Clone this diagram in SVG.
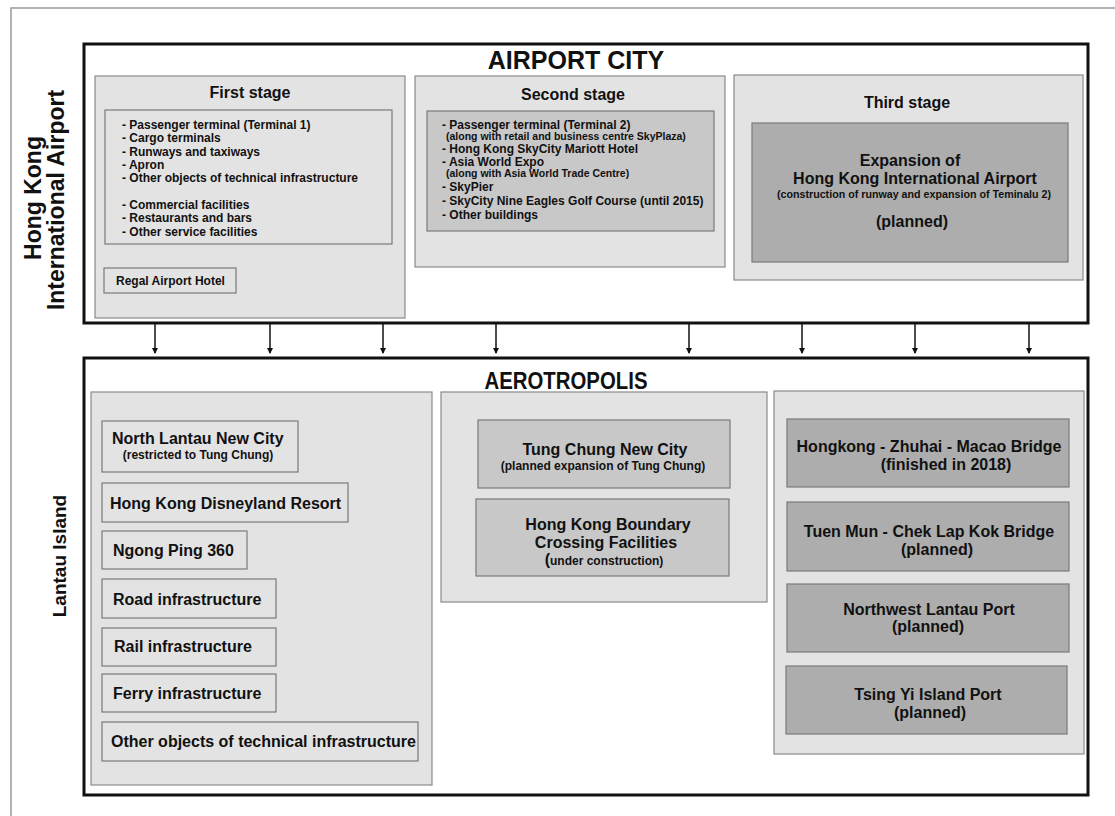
<svg xmlns="http://www.w3.org/2000/svg" width="1115" height="816" viewBox="0 0 1115 816">
<style>
text{font-family:"Liberation Sans",Arial,sans-serif;font-weight:bold;fill:#111}
.frame{fill:none;stroke:#999;stroke-width:1.5}
.big{fill:#fff;stroke:#111;stroke-width:3}
.panel{fill:#e3e3e3;stroke:#8a8a8a;stroke-width:1.2}
.light{fill:#e3e3e3;stroke:#7a7a7a;stroke-width:1.2}
.mid{fill:#c8c8c8;stroke:#7a7a7a;stroke-width:1.2}
.dark{fill:#adadad;stroke:#7a7a7a;stroke-width:1.2}
.c{text-anchor:middle}
.t25{font-size:25px}.t24{font-size:24px}.t23{font-size:23px}.t19{font-size:19px}.t16{font-size:16px}.t12{font-size:12px}.t105{font-size:10.5px}.t107{font-size:10.7px}
.conn line{stroke:#111;stroke-width:1.5}
</style>
<defs>
<marker id="ah" markerWidth="6" markerHeight="6" refX="5" refY="3" orient="auto" markerUnits="userSpaceOnUse">
<path d="M0,0 L6,3 L0,6 z" fill="#111"/>
</marker>
</defs>
<path class="frame" d="M11,816 L11,8 L1115,8"/>
<g id="label-hkia">
<text class="t23 c" transform="translate(41,198) rotate(-90)">Hong Kong</text>
<text class="t23 c" transform="translate(64,200) rotate(-90)">International Airport</text>
</g>
<g id="label-lantau">
<text class="t19 c" transform="translate(66,556) rotate(-90)">Lantau Island</text>
</g>
<g id="airport-city">
<rect class="big" x="84" y="44" width="1004" height="279"/>
<text class="t25 c" x="576" y="69">AIRPORT CITY</text>
</g>
<g id="first-stage">
<rect class="panel" x="95" y="76" width="310" height="242"/>
<text class="t16 c" x="250" y="98">First stage</text>
<rect class="light" x="105" y="110" width="287" height="134"/>
<text class="t12" x="122" y="129">- Passenger terminal (Terminal 1)</text>
<text class="t12" x="122" y="142">- Cargo terminals</text>
<text class="t12" x="122" y="156">- Runways and taxiways</text>
<text class="t12" x="122" y="169">- Apron</text>
<text class="t12" x="122" y="182">- Other objects of technical infrastructure</text>
<text class="t12" x="122" y="209">- Commercial facilities</text>
<text class="t12" x="122" y="222">- Restaurants and bars</text>
<text class="t12" x="122" y="236">- Other service facilities</text>
</g>
<g id="regal-hotel">
<rect class="light" x="104" y="268" width="132" height="25"/>
<text class="t12" x="116" y="285">Regal Airport Hotel</text>
</g>
<g id="second-stage">
<rect class="panel" x="415" y="76" width="310" height="191"/>
<text class="t16 c" x="573" y="100">Second stage</text>
<rect class="mid" x="427" y="111" width="287" height="120"/>
<text class="t12" x="442" y="129">- Passenger terminal (Terminal 2)</text>
<text class="t105" x="446" y="140">(along with retail and business centre SkyPlaza)</text>
<text class="t12" x="442" y="153">- Hong Kong SkyCity Mariott Hotel</text>
<text class="t12" x="442" y="166">- Asia World Expo</text>
<text class="t105" x="446" y="177">(along with Asia World Trade Centre)</text>
<text class="t12" x="442" y="191">- SkyPier</text>
<text class="t12" x="442" y="205">- SkyCity Nine Eagles Golf Course (until 2015)</text>
<text class="t12" x="442" y="219">- Other buildings</text>
</g>
<g id="third-stage">
<rect class="panel" x="734" y="75" width="349" height="205"/>
<text class="t16 c" x="907" y="108">Third stage</text>
<rect class="dark" x="752" y="123" width="316" height="139"/>
<text class="t16 c" x="910" y="166">Expansion of</text>
<text class="t16 c" x="915" y="184">Hong Kong International Airport</text>
<text class="t107 c" x="914" y="198">(construction of runway and expansion of Teminalu 2)</text>
<text class="t16 c" x="912" y="227">(planned)</text>
</g>
<g class="conn" id="connectors">
<line x1="155" y1="324" x2="155" y2="353" marker-end="url(#ah)"/>
<line x1="270" y1="324" x2="270" y2="353" marker-end="url(#ah)"/>
<line x1="383" y1="324" x2="383" y2="353" marker-end="url(#ah)"/>
<line x1="496" y1="324" x2="496" y2="353" marker-end="url(#ah)"/>
<line x1="689" y1="324" x2="689" y2="353" marker-end="url(#ah)"/>
<line x1="802" y1="324" x2="802" y2="353" marker-end="url(#ah)"/>
<line x1="915" y1="324" x2="915" y2="353" marker-end="url(#ah)"/>
<line x1="1029" y1="324" x2="1029" y2="353" marker-end="url(#ah)"/>
</g>
<g id="aerotropolis">
<rect class="big" x="84" y="358" width="1004" height="437"/>
<text class="t24 c" x="566" y="389" textLength="163" lengthAdjust="spacingAndGlyphs">AEROTROPOLIS</text>
</g>
<g id="panel-left">
<rect class="panel" x="91" y="392" width="341" height="393"/>
</g>
<g id="north-lantau">
<rect class="light" x="102" y="421" width="196" height="51"/>
<text class="t16" x="112" y="444">North Lantau New City</text>
<text class="t12 c" x="198" y="459">(restricted to Tung Chung)</text>
</g>
<g id="disneyland">
<rect class="light" x="102" y="483" width="246" height="39"/>
<text class="t16" x="110" y="509">Hong Kong Disneyland Resort</text>
</g>
<g id="ngong-ping">
<rect class="light" x="102" y="531" width="145" height="38"/>
<text class="t16" x="113" y="556">Ngong Ping 360</text>
</g>
<g id="road">
<rect class="light" x="102" y="579" width="174" height="39"/>
<text class="t16" x="113" y="605">Road infrastructure</text>
</g>
<g id="rail">
<rect class="light" x="102" y="628" width="174" height="38"/>
<text class="t16" x="114" y="652">Rail infrastructure</text>
</g>
<g id="ferry">
<rect class="light" x="102" y="674" width="174" height="38"/>
<text class="t16" x="113" y="699">Ferry infrastructure</text>
</g>
<g id="other-tech">
<rect class="light" x="102" y="722" width="316" height="39"/>
<text class="t16" x="111" y="747">Other objects of technical infrastructure</text>
</g>
<g id="panel-middle">
<rect class="panel" x="441" y="392" width="326" height="210"/>
</g>
<g id="tung-chung">
<rect class="mid" x="478" y="420" width="252" height="68"/>
<text class="t16 c" x="605" y="455">Tung Chung New City</text>
<text class="t12 c" x="603" y="470">(planned expansion of Tung Chung)</text>
</g>
<g id="boundary">
<rect class="mid" x="476" y="499" width="253" height="77"/>
<text class="t16 c" x="608" y="530">Hong Kong Boundary</text>
<text class="t16 c" x="606" y="548">Crossing Facilities</text>
<text class="t12 c" x="604" y="565"><tspan font-size="16px">(</tspan>under construction)</text>
</g>
<g id="panel-right">
<rect class="panel" x="774" y="391" width="310" height="363"/>
</g>
<g id="hzm-bridge">
<rect class="dark" x="787" y="419" width="282" height="68"/>
<text class="t16 c" x="929" y="452">Hongkong - Zhuhai - Macao Bridge</text>
<text class="t16 c" x="946" y="470">(finished in 2018)</text>
</g>
<g id="tuen-mun">
<rect class="dark" x="787" y="502" width="282" height="69"/>
<text class="t16 c" x="929" y="537">Tuen Mun - Chek Lap Kok Bridge</text>
<text class="t16 c" x="937" y="555">(planned)</text>
</g>
<g id="northwest-port">
<rect class="dark" x="787" y="584" width="282" height="68"/>
<text class="t16 c" x="929" y="615">Northwest Lantau Port</text>
<text class="t16 c" x="928" y="632">(planned)</text>
</g>
<g id="tsing-yi">
<rect class="dark" x="786" y="666" width="281" height="68"/>
<text class="t16 c" x="928" y="700">Tsing Yi Island Port</text>
<text class="t16 c" x="930" y="718">(planned)</text>
</g>
</svg>
